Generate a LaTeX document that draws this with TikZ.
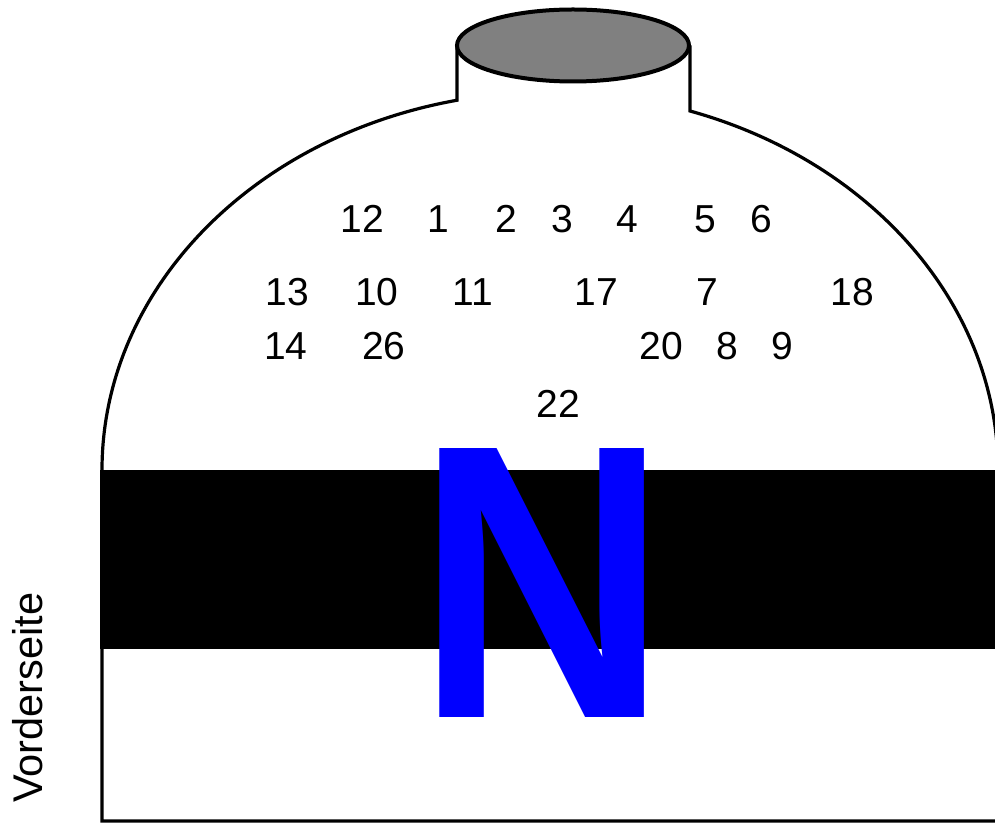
\documentclass[tikz,border=0pt]{standalone}
\usepackage{fontspec}
\setmainfont{Liberation Sans}
\begin{document}
\begin{tikzpicture}[x=1pt,y=1pt,
  outline/.style={draw=black,line width=3.2pt,line join=miter},
  lidstyle/.style={draw=black,fill=gray50,line width=4pt},
  num/.style={inner sep=0pt,font=\fontsize{39}{40}\selectfont},
  bigN/.style={inner sep=0pt,text=pureblue,xscale=0.89,font=\fontsize{391}{391}\selectfont\bfseries},
  side/.style={inner sep=0pt,rotate=90,anchor=base,font=\fontsize{41.5}{42}\selectfont}]
\definecolor{gray50}{HTML}{808080}
\definecolor{pureblue}{HTML}{0000FF}
\useasboundingbox (0,0) rectangle (995,823);
\clip (0,0) rectangle (995,823);
\fill[white] (0,0) rectangle (995,823);
% body outline
\draw[outline] (1010,2) -- (102,2) -- (102,353)
  arc[start angle=180,end angle=101.98,x radius=448,y radius=378] -- (457,777.5);
\draw[outline] (690,777.5) -- (690,712)
  arc[start angle=71.79,end angle=0,x radius=448,y radius=378] -- (998,2);
% lid
\draw[lidstyle] (573,777.5) ellipse[x radius=116,y radius=36];
% black band
\fill[black] (100,174) rectangle (1010,353);
% numbers
\node[num] (n12) at (362.5,604) {12};
\node[num] (n1)  at (438,604) {1};
\node[num] (n2)  at (506,604) {2};
\node[num] (n3)  at (562,604) {3};
\node[num] (n4)  at (627,604) {4};
\node[num] (n5)  at (705,604) {5};
\node[num] (n6)  at (761,604) {6};
\node[num] (n13) at (287.5,531) {13};
\node[num] (n10) at (377,531) {10};
\node[num] (n11) at (473,531) {11};
\node[num] (n17) at (596,531) {17};
\node[num] (n7)  at (707,531) {7};
\node[num] (n18) at (852,531) {18};
\node[num] (n14) at (286,477) {14};
\node[num] (n26) at (384,477) {26};
\node[num] (n20) at (661,477) {20};
\node[num] (n8)  at (727,477) {8};
\node[num] (n9)  at (782,477) {9};
\node[num] (n22) at (558,419) {22};
% big N
\node[bigN] (bign) at (542.5,240) {N};
% side label
\node[side] (vs) at (42,125.5) {Vorderseite};
\end{tikzpicture}
\end{document}
